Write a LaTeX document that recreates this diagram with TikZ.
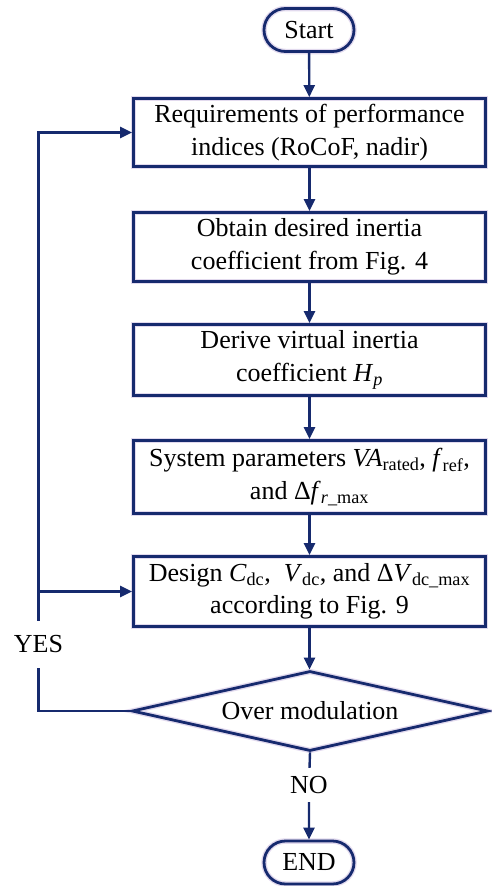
\documentclass[tikz,border=0pt]{standalone}
\usepackage{fontspec}
\setmainfont{Liberation Serif}
\usetikzlibrary{arrows.meta,shapes.geometric,shapes.misc}
\definecolor{navy}{RGB}{22,42,110}
\definecolor{halo}{RGB}{226,218,238}
\begin{document}
\begin{tikzpicture}[x=1pt,y=-1pt,
  txt/.style={font=\fontsize{26}{32.5}\selectfont, align=center},
  shp/.style={txt, draw=navy, line width=2.8pt, inner sep=0pt,
     preaction={draw=halo, line width=5.5pt}},
  stepbox/.style={shp, rectangle, minimum width=352pt},
  term/.style={shp, rounded rectangle, minimum width=90pt, minimum height=43pt},
  decide/.style={shp, diamond, aspect=4.4, minimum width=356pt, minimum height=80pt},
  conn/.style={draw=navy, line width=2.4pt},
  arr/.style={conn, -{Triangle[length=12pt,width=11pt]}},
  lbl/.style={txt, inner sep=0pt}
]
\useasboundingbox (0,0) rectangle (492,886);
\node[term] (start) at (309,30) {Start};
\node[stepbox, minimum height=68pt] (b1) at (309.5,132.5) {Requirements of performance\\indices (RoCoF, nadir)};
\node[stepbox, minimum height=69pt] (b2) at (309.5,247) {Obtain desired inertia\\coefficient from Fig. 4};
\node[stepbox, minimum height=71pt] (b3) at (309.5,360) {Derive virtual inertia\\coefficient \textit{H}\textsubscript{\textit{p}}};
\node[stepbox, minimum height=73pt] (b4) at (309.5,477) {System parameters \textit{VA}\textsubscript{rated}, \textit{f}\textsubscript{ref},\\and Δ\textit{f}\textsubscript{\textit{r}\_max}};
\node[stepbox, minimum height=70pt] (b5) at (309.5,591.5) {Design \textit{C}\textsubscript{dc}, \ \textit{V}\textsubscript{dc}, and Δ\textit{V}\textsubscript{dc\_max}\\according to Fig. 9};
\node[decide] (dia) at (310,711) {Over modulation};
\node[lbl, minimum height=34pt] (no) at (309,785) {NO};
\node[lbl, minimum height=47pt] (yes) at (38.5,644.5) {YES};
\node[term] (end) at (309,862.5) {END};
\coordinate (j5) at (yes.center |- b5.west);
\draw[arr] (start) -- (b1);
\draw[arr] (b1) -- (b2);
\draw[arr] (b2) -- (b3);
\draw[arr] (b3) -- (b4);
\draw[arr] (b4) -- (b5);
\draw[arr] (b5) -- (b5.south |- dia.north);
\draw[conn] (dia.south) -- (no);
\draw[arr] (no) -- (end);
\draw[conn] (dia.west) -| (yes);
\draw[arr] (yes) |- (b1.west);
\draw[arr] (j5) -- (b5.west);
\end{tikzpicture}
\end{document}
